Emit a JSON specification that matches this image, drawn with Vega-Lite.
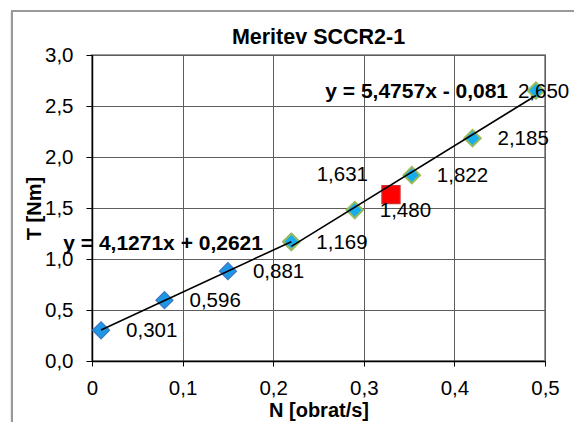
{
  "$schema": "https://vega.github.io/schema/vega-lite/v6.json",
  "autosize": "none",
  "width": 453,
  "height": 306,
  "padding": {"left": 92, "top": 55, "right": 29, "bottom": 61},
  "background": "white",
  "title": {"text": "Meritev SCCR2-1", "font": "Liberation Sans", "fontSize": 21.5, "fontWeight": "bold", "color": "black", "baseline": "alphabetic", "offset": -56},
  "datasets": {
    "pts": [
      {"series": "s1", "N": 0.01, "T": 0.301},
      {"series": "s1", "N": 0.08, "T": 0.596},
      {"series": "s1", "N": 0.15, "T": 0.881},
      {"series": "s1", "N": 0.22, "T": 1.169},
      {"series": "s2", "N": 0.22, "T": 1.169},
      {"series": "s2", "N": 0.29, "T": 1.48},
      {"series": "s2", "N": 0.353, "T": 1.822},
      {"series": "s2", "N": 0.42, "T": 2.185},
      {"series": "s2", "N": 0.49, "T": 2.65}
    ],
    "red": [{"N": 0.33, "T": 1.631}],
    "eqs": [
      {"N": 0.1887, "T": 1.147, "eq": "y = 4,1271x + 0,2621"},
      {"N": 0.4592, "T": 2.637, "eq": "y = 5,4757x - 0,081"}
    ]
  },
  "data": {"name": "pts"},
  "encoding": {
    "x": {"field": "N", "type": "quantitative",
      "scale": {"domain": [0, 0.5], "nice": false, "zero": false},
      "axis": {"values": [0, 0.1, 0.2, 0.3, 0.4, 0.5], "format": ".1~f", "title": "N [obrat/s]", "labelPadding": 12, "titlePadding": 2}},
    "y": {"field": "T", "type": "quantitative",
      "scale": {"domain": [0, 3], "nice": false, "zero": false},
      "axis": {"values": [0, 0.5, 1, 1.5, 2, 2.5, 3], "format": ".1f", "title": "T [Nm]", "labelPadding": 13, "titlePadding": 0, "tickSize": 6}}
  },
  "layer": [
    {
      "mark": {"type": "rect", "fill": null, "filled": false, "stroke": "#9a9a9a", "strokeWidth": 1.5},
      "encoding": {
        "x": {"datum": -0.0886, "type": "quantitative"},
        "x2": {"datum": 0.7},
        "y": {"datum": 3.434, "type": "quantitative"},
        "y2": {"datum": -1}
      }
    },
    {
      "transform": [{"filter": "datum.series == 's1'"}],
      "mark": {"type": "point", "shape": "diamond", "filled": true, "size": 290, "fill": "#1f95e6", "stroke": "#3b76c4", "strokeWidth": 1.2, "opacity": 1}
    },
    {
      "transform": [{"filter": "datum.series == 's2'"}],
      "mark": {"type": "point", "shape": "diamond", "filled": true, "size": 270, "fill": "#18aeee", "stroke": "#9bbb59", "strokeWidth": 2, "opacity": 1}
    },
    {
      "data": {"name": "red"},
      "mark": {"type": "point", "shape": "square", "filled": true, "size": 330, "fill": "#ff0000", "stroke": "#d03030", "strokeWidth": 1.2, "opacity": 1}
    },
    {
      "transform": [{"regression": "T", "on": "N", "groupby": ["series"]}],
      "mark": {"type": "line", "color": "black", "strokeWidth": 1.6},
      "encoding": {"detail": {"field": "series"}}
    },
    {
      "transform": [{"filter": "!(datum.series == 's2' && datum.N == 0.22) && datum.T != 2.65"}],
      "mark": {"type": "text", "align": "left", "baseline": "middle", "dx": 25, "dy": 1, "font": "Liberation Sans", "fontSize": 20.5, "color": "black"},
      "encoding": {"text": {"field": "T", "type": "quantitative", "format": ".3f"}}
    },
    {
      "transform": [{"filter": "datum.T == 2.65"}],
      "mark": {"type": "text", "align": "left", "baseline": "middle", "dx": -18, "dy": 1, "font": "Liberation Sans", "fontSize": 20.5, "color": "black"},
      "encoding": {"text": {"field": "T", "type": "quantitative", "format": ".3f"}}
    },
    {
      "data": {"name": "red"},
      "mark": {"type": "text", "align": "right", "baseline": "middle", "dx": -23, "dy": -20, "font": "Liberation Sans", "fontSize": 20.5, "color": "black"},
      "encoding": {"text": {"field": "T", "type": "quantitative", "format": ".3f"}}
    },
    {
      "data": {"name": "eqs"},
      "mark": {"type": "text", "align": "right", "baseline": "middle", "font": "Liberation Sans", "fontSize": 21, "fontWeight": "bold", "color": "black"},
      "encoding": {"text": {"field": "eq", "type": "nominal"}}
    }
  ],
  "config": {
    "locale": {"number": {"decimal": ",", "thousands": ".", "grouping": [3], "currency": ["", " €"]}},
    "view": {"stroke": "#999999", "strokeWidth": 2, "fill": "white"},
    "axis": {
      "labelFont": "Liberation Sans", "labelFontSize": 20.5, "labelColor": "black",
      "titleFont": "Liberation Sans", "titleFontSize": 20, "titleFontWeight": "bold", "titleColor": "black",
      "domainColor": "black", "domainWidth": 1.5, "tickColor": "black", "tickSize": 5, "tickWidth": 1,
      "gridColor": "#5e5e5e", "gridWidth": 1, "gridOpacity": 1, "labelFlush": false, "labelOverlap": false
    }
  }
}
